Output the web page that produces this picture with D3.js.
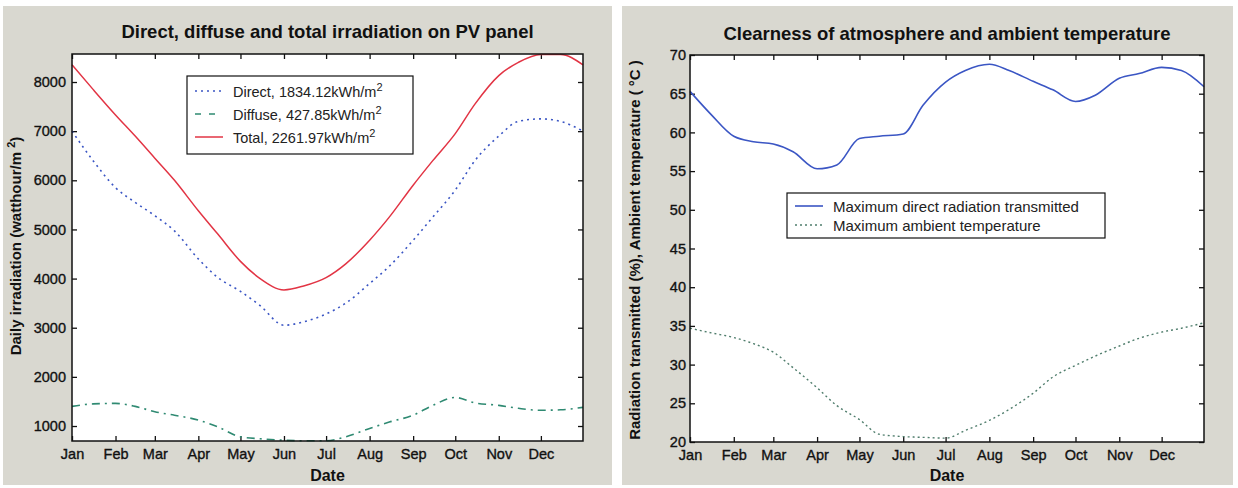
<!DOCTYPE html>
<html>
<head>
<meta charset="utf-8">
<script src="https://cdn.jsdelivr.net/npm/d3@7"></script>
<style>
  body { margin: 0; background: #fff; }
  svg { display: block; font-family: "Liberation Sans", Arial, sans-serif; }
</style>
</head>
<body>
<div id="chart"></div>
<script>
// day-of-year sample points (shared by all series)
var days = [1, 16, 32, 46, 60, 74, 91, 105, 121, 135, 152, 166, 182, 196, 213, 227, 244, 258, 274, 288, 305, 319, 335, 349, 365];

// left panel, watthour/m2
var totalIrr   = [8350, 7850, 7330, 6900, 6450, 6000, 5380, 4900, 4350, 4000, 3770, 3850, 4020, 4300, 4780, 5250, 5900, 6400, 6950, 7550, 8130, 8400, 8560, 8560, 8350];
var directIrr  = [7000, 6400, 5850, 5550, 5280, 4970, 4400, 4020, 3740, 3450, 3050, 3120, 3280, 3500, 3900, 4250, 4780, 5250, 5800, 6400, 6900, 7200, 7250, 7200, 7000];
var diffuseIrr = [1400, 1450, 1460, 1400, 1290, 1220, 1120, 980, 780, 740, 710, 700, 700, 780, 950, 1080, 1220, 1420, 1580, 1470, 1420, 1360, 1320, 1330, 1380];

// right panel
var transmitted = [65.3, 62.3, 59.5, 58.8, 58.5, 57.5, 55.3, 55.8, 59.2, 59.5, 59.8, 63.5, 66.5, 68.0, 68.8, 68.0, 66.6, 65.5, 64.0, 64.8, 67.0, 67.6, 68.4, 68.0, 65.9];
var ambientTemp = [34.7, 34.1, 33.5, 32.7, 31.6, 29.6, 27.0, 24.7, 22.9, 21.0, 20.7, 20.6, 20.5, 21.5, 22.8, 24.2, 26.3, 28.4, 29.9, 31.1, 32.4, 33.4, 34.2, 34.7, 35.4];

var monthNames = ['Jan', 'Feb', 'Mar', 'Apr', 'May', 'Jun', 'Jul', 'Aug', 'Sep', 'Oct', 'Nov', 'Dec'];
var monthStart = [1, 32, 60, 91, 121, 152, 182, 213, 244, 274, 305, 335];
var leftTicks  = [1000, 2000, 3000, 4000, 5000, 6000, 7000, 8000];
var rightTicks = [20, 25, 30, 35, 40, 45, 50, 55, 60, 65, 70];

const W = 1238, H = 488;
const svg = d3.select('#chart').append('svg').attr('width', W).attr('height', H);

// grey figure backgrounds
svg.append('rect').attr('x', 3).attr('y', 6).attr('width', 609).attr('height', 479).attr('fill', '#d9d8d0');
svg.append('rect').attr('x', 622).attr('y', 6).attr('width', 611).attr('height', 479).attr('fill', '#d9d8d0');

function drawPanel(opt) {
    var g = svg.append('g');
    var x = d3.scaleLinear().domain([1, 365]).range([opt.left, opt.right]);
    var y = d3.scaleLinear().domain(opt.yDomain).range([opt.bottom, opt.top]);

    g.append('rect')
        .attr('x', opt.left).attr('y', opt.top)
        .attr('width', opt.right - opt.left).attr('height', opt.bottom - opt.top)
        .attr('fill', '#fff');

    // axes, ticks pointing inward like matlab
    var axB = g.append('g').attr('transform', `translate(0,${opt.bottom})`)
        .call(d3.axisBottom(x).tickValues(monthStart).tickSize(-5).tickPadding(8).tickFormat((d, i) => monthNames[i]));
    var axT = g.append('g').attr('transform', `translate(0,${opt.top})`)
        .call(d3.axisTop(x).tickValues(monthStart).tickSize(-5).tickFormat(''));
    var axL = g.append('g').attr('transform', `translate(${opt.left},0)`)
        .call(d3.axisLeft(y).tickValues(opt.yTicks).tickSize(-5).tickPadding(opt.yPad).tickFormat(d3.format('d')));
    var axR = g.append('g').attr('transform', `translate(${opt.right},0)`)
        .call(d3.axisRight(y).tickValues(opt.yTicks).tickSize(-5).tickFormat(''));
    [axB, axT, axL, axR].forEach(a => {
        a.select('.domain').remove();
        a.selectAll('line').attr('stroke', '#111').attr('stroke-width', 1.3);
        a.selectAll('text').attr('fill', '#111').attr('stroke', '#111').attr('stroke-width', 0.35)
            .style('font-size', '14.5px');
    });

    var line = d3.line().x((d, i) => x(days[i])).y(d => y(d)).curve(d3.curveMonotoneX);
    opt.series.forEach(s => {
        g.append('path').datum(s.values)
            .attr('d', line)
            .attr('fill', 'none')
            .attr('stroke', s.color)
            .attr('stroke-width', s.width)
            .attr('stroke-dasharray', s.dash);
    });

    // box
    g.append('rect')
        .attr('x', opt.left).attr('y', opt.top)
        .attr('width', opt.right - opt.left).attr('height', opt.bottom - opt.top)
        .attr('fill', 'none').attr('stroke', '#111').attr('stroke-width', 1.5);

    // titles
    g.append('text').attr('x', (opt.left + opt.right) / 2).attr('y', opt.titleY)
        .attr('text-anchor', 'middle').style('font-size', '18.5px').style('font-weight', 'bold')
        .attr('fill', '#111').text(opt.title);
    g.append('text').attr('x', (opt.left + opt.right) / 2).attr('y', 481)
        .attr('text-anchor', 'middle').style('font-size', '16px').style('font-weight', 'bold')
        .attr('fill', '#111').text('Date');
    var yl = g.append('text')
        .attr('transform', `translate(${opt.yLabelX},${opt.yLabelY}) rotate(-90)`)
        .attr('text-anchor', 'middle').style('font-size', opt.yLabelSize).style('font-weight', 'bold')
        .attr('fill', '#111');
    opt.yLabel(yl);

    // legend
    var lg = g.append('g');
    lg.append('rect').attr('x', opt.legend.x).attr('y', opt.legend.y)
        .attr('width', opt.legend.w).attr('height', opt.legend.h)
        .attr('fill', '#fff').attr('stroke', '#111').attr('stroke-width', 1.2);
    opt.series.forEach((s, i) => {
        var ly = opt.legend.y + opt.legend.first + i * opt.legend.step;
        lg.append('line')
            .attr('x1', opt.legend.x + 8).attr('x2', opt.legend.x + 36)
            .attr('y1', ly).attr('y2', ly)
            .attr('stroke', s.color).attr('stroke-width', s.width).attr('stroke-dasharray', s.legendDash || s.dash);
        var t = lg.append('text').attr('x', opt.legend.x + 46).attr('y', ly + 5.5)
            .style('font-size', opt.legend.font).attr('fill', '#222');
        t.append('tspan').text(s.label);
        if (s.sup) {
            t.append('tspan').attr('dy', -6).style('font-size', '11px').text(s.sup);
        }
    });
}

drawPanel({
    left: 72, right: 583, top: 54, bottom: 441,
    yDomain: [695, 8570], yTicks: leftTicks, yPad: 6,
    title: 'Direct, diffuse and total irradiation on PV panel', titleY: 38,
    yLabelX: 21, yLabelY: 246, yLabelSize: '15px',
    yLabel: t => {
        t.append('tspan').text('Daily irradiation (watthour/m ');
        t.append('tspan').attr('dy', -6).style('font-size', '11px').text('2');
        t.append('tspan').attr('dy', 6).text(')');
    },
    legend: {x: 187, y: 76, w: 226, h: 78, first: 15, step: 23, font: '14.5px'},
    series: [
        {label: 'Direct, 1834.12kWh/m', sup: '2', values: directIrr, color: '#3b56c4', width: 1.6, dash: '2,4', legendDash: '2,4'},
        {label: 'Diffuse, 427.85kWh/m', sup: '2', values: diffuseIrr, color: '#2f8a72', width: 1.6, dash: '8,5,2,5', legendDash: '6,8'},
        {label: 'Total, 2261.97kWh/m', sup: '2', values: totalIrr, color: '#e23444', width: 1.5, dash: null}
    ]
});

drawPanel({
    left: 690, right: 1204, top: 55, bottom: 442,
    yDomain: [20, 70], yTicks: rightTicks, yPad: 4,
    title: 'Clearness of atmosphere and ambient temperature', titleY: 40,
    yLabelX: 640, yLabelY: 250, yLabelSize: '15px',
    yLabel: t => { t.text('Radiation transmitted (%), Ambient temperature ( \u00b0C )'); },
    legend: {x: 787, y: 193, w: 318, h: 45, first: 13, step: 19, font: '15px'},
    series: [
        {label: 'Maximum direct radiation transmitted', values: transmitted, color: '#3b56c4', width: 1.6, dash: null},
        {label: 'Maximum ambient temperature', values: ambientTemp, color: '#4f7d6c', width: 1.4, dash: '2,3'}
    ]
});
</script>
</body>
</html>
